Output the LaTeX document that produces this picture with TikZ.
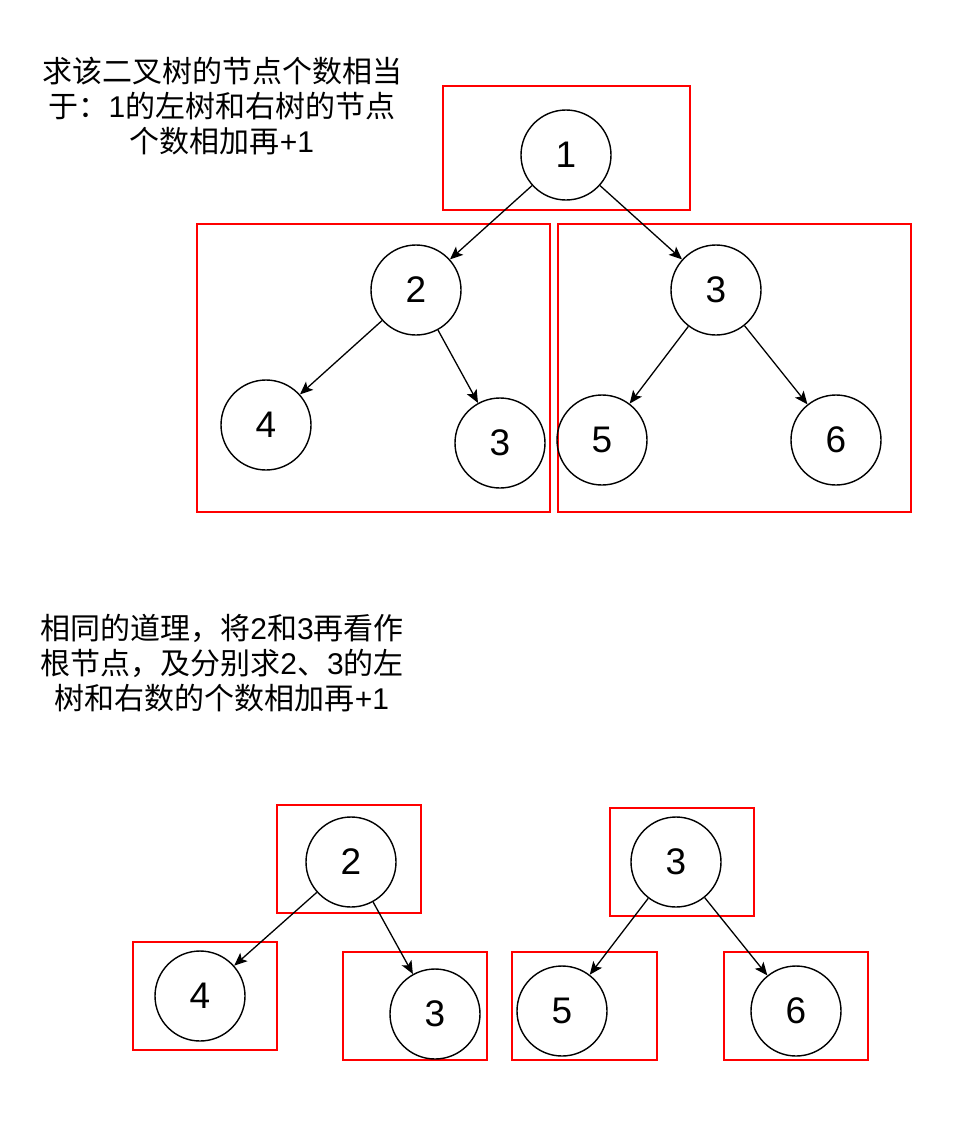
\documentclass[tikz,border=0pt]{standalone}
\usepackage{fontspec}
\setmainfont{Liberation Sans}
\newfontfamily\cjk{Noto Sans CJK SC}
\usetikzlibrary{arrows.meta}
\newcommand\latn[1]{{\rmfamily #1}}
\begin{document}
\begin{tikzpicture}[x=1pt,y=-1pt,
  tnode/.style={circle,draw,line width=1.4pt,minimum size=90pt,inner sep=0pt,font=\fontsize{37}{40}\selectfont},
  rbox/.style={draw=red,line width=1.4pt},
  edge/.style={-{Stealth[length=13pt,width=11pt,inset=3pt]},line width=1.3pt},
  note/.style={align=center,inner sep=0pt,font=\fontsize{30}{35}\selectfont\cjk}]
\path[fill=white,use as bounding box] (0,0) rectangle (964,1122);

% text
\node[note] (t1) at (222,106) {求该二叉树的节点个数相当\\于：\latn{1}的左树和右树的节点\\个数相加再\latn{+1}};
\node[note] (t2) at (222,663) {相同的道理，将\latn{2}和\latn{3}再看作\\根节点，及分别求\latn{2}、\latn{3}的左\\树和右数的个数相加再\latn{+1}};

% top tree boxes
\draw[rbox] (443,86) rectangle (690,210);
\draw[rbox] (197,224) rectangle (550,512);
\draw[rbox] (558,224) rectangle (911,512);

% top tree nodes
\node[tnode] (n1) at (566,155) {1};
\node[tnode] (n2) at (416,290) {2};
\node[tnode] (n3) at (716,290) {3};
\node[tnode] (n4) at (266,425) {4};
\node[tnode] (n3b) at (500,443) {3};
\node[tnode] (n5) at (602,440) {5};
\node[tnode] (n6) at (836,440) {6};

\draw[edge] (n1) -- (n2);
\draw[edge] (n1) -- (n3);
\draw[edge] (n2) -- (n4);
\draw[edge] (n2) -- (n3b);
\draw[edge] (n3) -- (n5);
\draw[edge] (n3) -- (n6);

% bottom boxes
\draw[rbox] (277,805) rectangle (421,913);
\draw[rbox] (610,808) rectangle (754,916);
\draw[rbox] (133,942) rectangle (277,1050);
\draw[rbox] (343,952) rectangle (487,1060);
\draw[rbox] (512,952) rectangle (657,1060);
\draw[rbox] (724,952) rectangle (868,1060);

% bottom nodes
\node[tnode] (m2) at (351,862) {2};
\node[tnode] (m3) at (676,862) {3};
\node[tnode] (m4) at (200,996) {4};
\node[tnode] (m3b) at (435,1014) {3};
\node[tnode] (m5) at (562,1011) {5};
\node[tnode] (m6) at (796,1011) {6};

\draw[edge] (m2) -- (m4);
\draw[edge] (m2) -- (m3b);
\draw[edge] (m3) -- (m5);
\draw[edge] (m3) -- (m6);
\end{tikzpicture}
\end{document}
